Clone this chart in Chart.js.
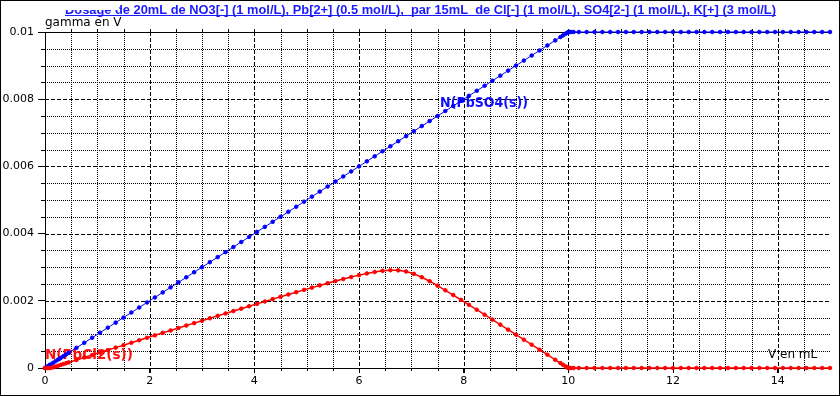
<!DOCTYPE html>
<html>
<head>
<meta charset="utf-8">
<script src="https://cdn.jsdelivr.net/npm/chart.js@4.4.1/dist/chart.umd.min.js"></script>
<style>
  html, body { margin: 0; padding: 0; background: #fff; }
  canvas { display: block; }
</style>
</head>
<body>
<canvas id="chart" width="840" height="396"></canvas>
<script>
var chartTitle = 'Dosage de 20mL de NO3[-] (1 mol/L), Pb[2+] (0.5 mol/L),  par 15mL  de Cl[-] (1 mol/L), SO4[2-] (1 mol/L), K[+] (3 mol/L)';

// volume added (mL)
var volume = [
  0, 0.02, 0.05, 0.08, 0.1, 0.15, 0.2, 0.25, 0.3, 0.35, 0.4, 0.45,
  0.6, 0.75, 0.9, 1.05, 1.2, 1.35, 1.5, 1.65, 1.8, 1.95, 2.1, 2.25,
  2.4, 2.55, 2.7, 2.85, 3, 3.15, 3.3, 3.45, 3.6, 3.75, 3.9, 4.05,
  4.2, 4.35, 4.5, 4.65, 4.8, 4.95, 5.1, 5.25, 5.4, 5.55, 5.7, 5.85,
  6, 6.15, 6.3, 6.45, 6.6, 6.75, 6.9, 7.05, 7.2, 7.35, 7.5, 7.65,
  7.8, 7.95, 8.1, 8.25, 8.4, 8.55, 8.7, 8.85, 9, 9.15, 9.3, 9.45,
  9.6, 9.75, 9.85, 9.9, 9.95, 9.98, 10, 10.02, 10.05, 10.1, 10.2, 10.35,
  10.5, 10.65, 10.8, 10.95, 11.1, 11.25, 11.4, 11.55, 11.7, 11.85, 12, 12.15,
  12.3, 12.45, 12.6, 12.75, 12.9, 13.05, 13.2, 13.35, 13.5, 13.65, 13.8, 13.95,
  14.1, 14.25, 14.4, 14.55, 14.7, 14.85, 15
];

var nPbSO4 = [
  0, 0.00002, 0.00005, 0.00008, 0.0001, 0.00015, 0.0002, 0.00025, 0.0003, 0.00035, 0.0004, 0.00045,
  0.0006, 0.00075, 0.0009, 0.00105, 0.0012, 0.00135, 0.0015, 0.00165, 0.0018, 0.00195, 0.0021, 0.00225,
  0.0024, 0.00255, 0.0027, 0.00285, 0.003, 0.00315, 0.0033, 0.00345, 0.0036, 0.00375, 0.0039, 0.00405,
  0.0042, 0.00435, 0.0045, 0.00465, 0.0048, 0.00495, 0.0051, 0.00525, 0.0054, 0.00555, 0.0057, 0.00585,
  0.006, 0.00615, 0.0063, 0.00645, 0.0066, 0.00675, 0.0069, 0.00705, 0.0072, 0.00735, 0.0075, 0.00765,
  0.0078, 0.00795, 0.0081, 0.00825, 0.0084, 0.00855, 0.0087, 0.00885, 0.009, 0.00915, 0.0093, 0.00945,
  0.0096, 0.00975, 0.00985, 0.0099, 0.00995, 0.00998, 0.01, 0.01, 0.01, 0.01, 0.01, 0.01,
  0.01, 0.01, 0.01, 0.01, 0.01, 0.01, 0.01, 0.01, 0.01, 0.01, 0.01, 0.01,
  0.01, 0.01, 0.01, 0.01, 0.01, 0.01, 0.01, 0.01, 0.01, 0.01, 0.01, 0.01,
  0.01, 0.01, 0.01, 0.01, 0.01, 0.01, 0.01
];

var nPbCl2 = [
  0, 0, 0, 0, 0, 0.000018, 0.000043, 0.000067, 0.000092, 0.000117, 0.000141, 0.000166,
  0.000239, 0.000312, 0.000386, 0.000459, 0.000533, 0.000606, 0.000679, 0.000752, 0.000826, 0.000899, 0.000972, 0.001045,
  0.001117, 0.00119, 0.001263, 0.001335, 0.001407, 0.00148, 0.001552, 0.001623, 0.001695, 0.001766, 0.001838, 0.001908,
  0.001979, 0.002049, 0.002119, 0.002188, 0.002257, 0.002325, 0.002392, 0.002458, 0.002524, 0.002587, 0.002648, 0.002707,
  0.002764, 0.002814, 0.002858, 0.002892, 0.00291, 0.002906, 0.002871, 0.002801, 0.002702, 0.002583, 0.002451, 0.002313,
  0.002172, 0.002027, 0.001881, 0.001734, 0.001587, 0.001439, 0.00129, 0.001141, 0.000992, 0.000843, 0.000694, 0.000544,
  0.000395, 0.000245, 0.000145, 0.000096, 0.000046, 0.000016, 0, 0, 0, 0, 0, 0,
  0, 0, 0, 0, 0, 0, 0, 0, 0, 0, 0, 0,
  0, 0, 0, 0, 0, 0, 0, 0, 0, 0, 0, 0,
  0, 0, 0, 0, 0, 0, 0
];

var xTicks = [0, 2, 4, 6, 8, 10, 12, 14];
var xTickLabels = ['0', '2', '4', '6', '8', '10', '12', '14'];
var yTicks = [0, 0.002, 0.004, 0.006, 0.008, 0.01];
var yTickLabels = ['0', '0.002', '0.004', '0.006', '0.008', '0.01'];

// curve names, anchored in data units
var curveLabels = [
  { text: 'N(PbSO4(s))', x: 7.55, y: 0.00789, color: '#1010ff' },
  { text: 'N(PbCl2(s))', x: 0, y: 0.00037, color: '#ff1010' }
];

function toPoints(ys) {
  return volume.map(function (v, i) { return { x: v, y: ys[i] }; });
}

var decor = {
  id: 'decor',
  beforeDatasetsDraw: function (chart) {
    var ctx = chart.ctx, a = chart.chartArea;
    var xs = chart.scales.x, ys = chart.scales.y;
    ctx.save();
    ctx.strokeStyle = '#000';
    ctx.lineWidth = 1;
    // vertical grid every 0.5 mL
    for (var k = 1; k < 30; k++) {
      var v = k * 0.5;
      var px = Math.round(xs.getPixelForValue(v)) + 0.5;
      ctx.setLineDash(k % 4 === 0 ? [4, 2] : [1, 1]);
      ctx.beginPath(); ctx.moveTo(px, a.top); ctx.lineTo(px, a.bottom); ctx.stroke();
      ctx.setLineDash([]);
      ctx.beginPath(); ctx.moveTo(px, a.bottom); ctx.lineTo(px, a.bottom + (k % 4 === 0 ? 5 : 3)); ctx.stroke();
      ctx.beginPath(); ctx.moveTo(px, a.top - 3); ctx.lineTo(px, a.top); ctx.stroke();
    }
    // horizontal grid every 0.0005
    for (var j = 1; j < 20; j++) {
      var py = Math.round(ys.getPixelForValue(j * 0.0005)) + 0.5;
      ctx.setLineDash(j % 4 === 0 ? [4, 2] : [1, 1]);
      ctx.beginPath(); ctx.moveTo(a.left, py); ctx.lineTo(a.right, py); ctx.stroke();
      ctx.setLineDash([]);
      if (j % 4 !== 0) {
        ctx.beginPath(); ctx.moveTo(a.left - 4, py); ctx.lineTo(a.left, py); ctx.stroke();
      }
    }
    // solid top line at 0.01
    var top = Math.round(ys.getPixelForValue(0.01)) + 0.5;
    ctx.beginPath(); ctx.moveTo(a.left, top); ctx.lineTo(a.right, top); ctx.stroke();

    ctx.font = 'bold 14px "DejaVu Sans"';
    ctx.textBaseline = 'middle';
    ctx.textAlign = 'left';
    curveLabels.forEach(function (l) {
      var lx = xs.getPixelForValue(l.x), ly = ys.getPixelForValue(l.y);
      var lw = ctx.measureText(l.text).width;
      ctx.save();
      ctx.translate(lx, ly);
      ctx.scale(88 / lw, 1);
      ctx.fillStyle = l.color;
      ctx.fillText(l.text, 0, 0);
      ctx.restore();
    });
    ctx.restore();
  },
  afterDraw: function (chart) {
    var ctx = chart.ctx, a = chart.chartArea;
    ctx.save();
    // title, bold blue underlined, squeezed to the reference width
    ctx.font = 'bold 12px "Liberation Sans"';
    var w = ctx.measureText(chartTitle).width;
    ctx.save();
    ctx.translate(65, 0);
    ctx.scale(711 / w, 1);
    ctx.fillStyle = '#1a1aff';
    ctx.textBaseline = 'alphabetic';
    ctx.fillText(chartTitle, 0, 14);
    ctx.fillRect(0, 15, w, 1);
    ctx.restore();
    ctx.fillStyle = '#fff';
    ctx.fillRect(44, 1, 75, 9);

    ctx.fillStyle = '#000';
    ctx.font = '12px "DejaVu Sans"';
    ctx.textAlign = 'left';
    ctx.fillText('gamma en V', a.left, 26);
    ctx.fillText('V en mL', 768, 358);

    ctx.strokeStyle = '#000';
    ctx.lineWidth = 1;
    ctx.strokeRect(0.5, 0.5, 839, 395);
    ctx.restore();
  }
};

var ctx = document.getElementById('chart').getContext('2d');
var myChart = new Chart(ctx, {
  type: 'scatter',
  data: {
    datasets: [{
      label: 'N(PbCl2(s))',
      data: toPoints(nPbCl2),
      showLine: true,
      borderColor: '#ff0000',
      backgroundColor: '#ff0000',
      borderWidth: 1.5,
      pointRadius: 1.8,
      pointBorderWidth: 1,
      pointHoverRadius: 0,
      clip: false
    }, {
      label: 'N(PbSO4(s))',
      data: toPoints(nPbSO4),
      showLine: true,
      borderColor: '#0000ff',
      backgroundColor: '#0000ff',
      borderWidth: 1,
      pointRadius: 1.8,
      pointBorderWidth: 1,
      pointHoverRadius: 0,
      clip: false
    }]
  },
  options: {
    responsive: false,
    animation: false,
    devicePixelRatio: 1,
    layout: { padding: { top: 32, left: 0, right: 10, bottom: 0 } },
    plugins: { legend: { display: false }, tooltip: { enabled: false }, title: { display: false } },
    scales: {
      x: {
        type: 'linear',
        min: 0,
        max: 15,
        afterFit: function (s) { s.height = 28; },
        afterBuildTicks: function (s) { s.ticks = xTicks.map(function (v) { return { value: v }; }); },
        grid: { drawOnChartArea: false, drawTicks: true, tickLength: 5, color: '#000', tickColor: '#000' },
        border: { display: true, color: '#000', width: 1 },
        ticks: {
          color: '#000',
          padding: 2,
          maxRotation: 0,
          font: { family: 'DejaVu Sans', size: 11 },
          callback: function (value, index) { return xTickLabels[index]; }
        }
      },
      y: {
        type: 'linear',
        min: 0,
        max: 0.01,
        afterFit: function (s) { s.width = 45; },
        afterBuildTicks: function (s) { s.ticks = yTicks.map(function (v) { return { value: v }; }); },
        grid: { drawOnChartArea: false, drawTicks: true, tickLength: 7, color: '#000', tickColor: '#000' },
        border: { display: true, color: '#000', width: 1 },
        ticks: {
          color: '#000',
          padding: 4,
          font: { family: 'DejaVu Sans', size: 11 },
          callback: function (value, index) { return yTickLabels[index]; }
        }
      }
    }
  },
  plugins: [decor]
});
</script>
</body>
</html>
